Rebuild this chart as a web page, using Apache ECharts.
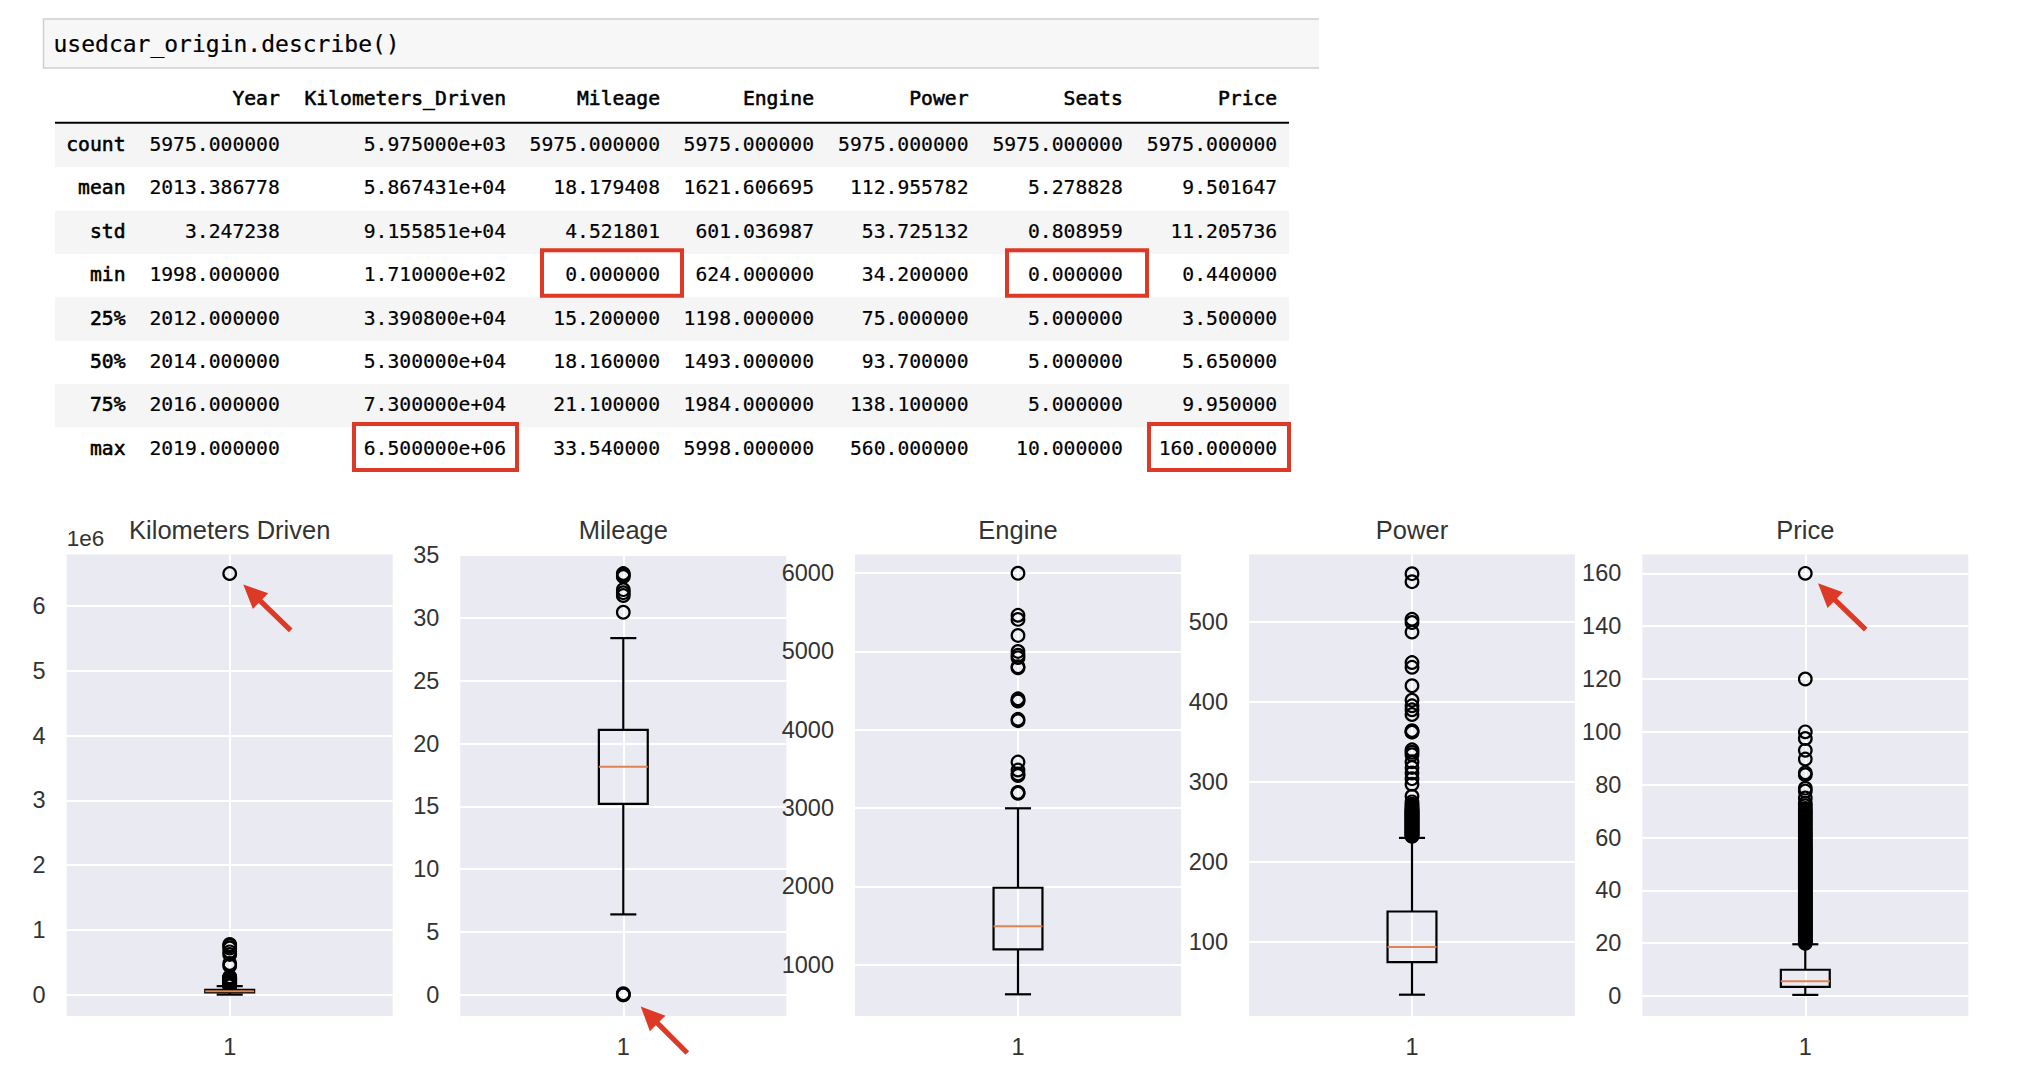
<!DOCTYPE html>
<html>
<head>
<meta charset="utf-8">
<title>usedcar_origin.describe()</title>
<style>html,body{margin:0;padding:0;background:#fff}#chart{width:2038px;height:1068px}</style>
<script src="https://cdn.jsdelivr.net/npm/echarts@6/dist/echarts.min.js"></script>
</head>
<body>
<div id="chart"></div>
<script>
// ---------- table data ----------
const codeLine = 'usedcar_origin.describe()';
const tableColumns = ['Year', 'Kilometers_Driven', 'Mileage', 'Engine', 'Power', 'Seats', 'Price'];
const rowLabels = ['count', 'mean', 'std', 'min', '25%', '50%', '75%', 'max'];
const rowCount = ['5975.000000', '5.975000e+03', '5975.000000', '5975.000000', '5975.000000', '5975.000000', '5975.000000'];
const rowMean = ['2013.386778', '5.867431e+04', '18.179408', '1621.606695', '112.955782', '5.278828', '9.501647'];
const rowStd = ['3.247238', '9.155851e+04', '4.521801', '601.036987', '53.725132', '0.808959', '11.205736'];
const rowMin = ['1998.000000', '1.710000e+02', '0.000000', '624.000000', '34.200000', '0.000000', '0.440000'];
const row25 = ['2012.000000', '3.390800e+04', '15.200000', '1198.000000', '75.000000', '5.000000', '3.500000'];
const row50 = ['2014.000000', '5.300000e+04', '18.160000', '1493.000000', '93.700000', '5.000000', '5.650000'];
const row75 = ['2016.000000', '7.300000e+04', '21.100000', '1984.000000', '138.100000', '5.000000', '9.950000'];
const rowMax = ['2019.000000', '6.500000e+06', '33.540000', '5998.000000', '560.000000', '10.000000', '160.000000'];

// ---------- box plot data: [low whisker, Q1, median, Q3, high whisker] ----------
const panelTitles = ['Kilometers Driven', 'Mileage', 'Engine', 'Power', 'Price'];
const kmBox = [171, 33908, 53000, 73000, 131000];
const mileageBox = [6.4, 15.2, 18.16, 21.1, 28.4];
const engineBox = [624, 1198, 1493, 1984, 2998];
const powerBox = [34.2, 75, 93.7, 138.1, 230];
const priceBox = [0.44, 3.5, 5.65, 9.95, 19.6];

const kmOutliers = [135000, 140000, 145000, 150000, 155000, 160000, 165000, 170000, 175000, 180000, 185000, 190000, 195000, 200000, 205000, 210000, 215000, 220000, 225000, 230000, 235000, 240000, 245000, 250000, 255000, 260000, 265000, 270000, 275000, 445000, 480000, 620000, 660000, 720000, 755000, 775000, 6500000];
const mileageOutliers = [0, 0, 0.08, 30.46, 31.79, 32.02, 32.26, 33.3, 33.44, 33.54];
const engineOutliers = [3190, 3198, 3200, 3417, 3436, 3486, 3588, 4116, 4134, 4367, 4375, 4395, 4792, 4806, 4921, 4951, 5000, 5204, 5409, 5461, 5998];
const powerOutliers = [232, 233, 234, 235, 236, 237, 238, 239, 240, 241, 242, 243, 244, 245, 246, 247, 248, 249, 250, 251, 252, 253, 254, 255, 256, 257, 258, 259, 260, 261, 262, 263, 264, 265, 266, 268, 270, 272, 275, 282, 297, 304, 311, 318, 325, 334, 337, 340, 362, 363, 364, 384, 390, 395, 402, 420, 443, 449, 487, 499, 503, 550, 560];
const priceOutliers = [20, 20.5, 21, 21.5, 22, 22.5, 23, 23.5, 24, 24.5, 25, 25.5, 26, 26.5, 27, 27.5, 28, 28.5, 29, 29.5, 30, 30.5, 31, 31.5, 32, 32.5, 33, 33.5, 34, 34.5, 35, 35.5, 36, 36.5, 37, 37.5, 38, 38.5, 39, 39.5, 40, 40.5, 41, 41.5, 42, 42.5, 43, 43.5, 44, 44.5, 45, 45.5, 46, 46.5, 47, 47.5, 48, 48.5, 49, 49.5, 50, 50.5, 51, 51.5, 52, 52.5, 53, 53.5, 54, 54.5, 55, 55.5, 56, 56.6, 57.2, 57.8, 58.5, 59.2, 60, 60.6, 61.3, 62, 62.8, 63.5, 64.2, 65, 65.7, 66.5, 67.2, 68, 68.8, 69.5, 70.2, 71, 72, 73, 75, 77.6, 78.7, 83.8, 84.5, 89.7, 93, 97.5, 100, 120, 160];

const kmTicks = [0, 1000000, 2000000, 3000000, 4000000, 5000000, 6000000];
const mileageTicks = [0, 5, 10, 15, 20, 25, 30, 35];
const engineTicks = [1000, 2000, 3000, 4000, 5000, 6000];
const powerTicks = [100, 200, 300, 400, 500];
const priceTicks = [0, 20, 40, 60, 80, 100, 120, 140, 160];
const xTick = [1];

// ---------- layout and style ----------
const panelLefts = [66.7, 460.3, 855, 1249, 1642.3];
const panelWidth = 326;
const panelTop = 554.6;
const panelHeight = 461.4;
const yRanges = [[-330000, 6793000], [-1.69, 35.05], [347, 6236], [7.6, 583.8], [-7.55, 167.1]];
const boxHalf = 0.075, capHalf = 0.04;
const RED = '#dc3a26', INK = '#333333', MEDIAN = '#dd8452';
const SANS = '"Liberation Sans", Arial, sans-serif', MONO = '"DejaVu Sans Mono", monospace';

const boxes = [kmBox, mileageBox, engineBox, powerBox, priceBox];
const outliers = [kmOutliers, mileageOutliers, engineOutliers, powerOutliers, priceOutliers];
const ticks = [kmTicks, mileageTicks, engineTicks, powerTicks, priceTicks];

function renderBox(params, api) {
  const x = api.value(0);
  const p = (dx, i) => api.coord([x + dx, api.value(i)]);
  const seg = (a, b, color, w) => ({
    type: 'line',
    shape: { x1: a[0], y1: a[1], x2: b[0], y2: b[1] },
    style: { stroke: color, lineWidth: w, fill: null }
  });
  const tl = p(-boxHalf, 4), br = p(boxHalf, 2);
  return {
    type: 'group',
    children: [
      seg(p(0, 1), p(0, 2), '#000', 2.2),
      seg(p(0, 4), p(0, 5), '#000', 2.2),
      seg(p(-capHalf, 1), p(capHalf, 1), '#000', 2.2),
      seg(p(-capHalf, 5), p(capHalf, 5), '#000', 2.2),
      {
        type: 'rect',
        shape: { x: tl[0], y: tl[1], width: br[0] - tl[0], height: br[1] - tl[1] },
        style: { stroke: '#000', lineWidth: 2.2, fill: 'none' }
      },
      seg(p(-boxHalf, 3), p(boxHalf, 3), MEDIAN, 2)
    ]
  };
}

const grids = [], xAxes = [], yAxes = [], series = [], titles = [];
panelTitles.forEach((name, i) => {
  grids.push({
    left: panelLefts[i], top: panelTop, width: panelWidth, height: panelHeight,
    show: true, backgroundColor: '#eaeaf2', borderWidth: 0
  });
  titles.push({
    text: name, left: panelLefts[i] + panelWidth / 2 - 5, top: 512, textAlign: 'center',
    textStyle: { fontFamily: SANS, fontSize: 25.5, fontWeight: 'normal', color: INK }
  });
  xAxes.push({
    gridIndex: i, type: 'value', min: 0.5, max: 1.5,
    axisLine: { show: false },
    axisTick: { show: false, customValues: xTick },
    axisLabel: { customValues: xTick, margin: 19, fontFamily: SANS, fontSize: 23.5, color: INK },
    splitLine: { show: true, lineStyle: { color: '#fff', width: 2 } }
  });
  yAxes.push({
    gridIndex: i, type: 'value', min: yRanges[i][0], max: yRanges[i][1],
    name: i === 0 ? '1e6' : '',
    nameLocation: 'end', nameGap: 5,
    nameTextStyle: { fontFamily: SANS, fontSize: 22.5, color: INK, align: 'left', verticalAlign: 'bottom' },
    axisLine: { show: false },
    axisTick: { show: false, customValues: ticks[i] },
    axisLabel: {
      customValues: ticks[i], margin: 21, fontFamily: SANS, fontSize: 23.5, color: INK,
      padding: [5, 0, 0, 0],
      formatter: i === 0 ? (v => String(v / 1000000)) : (v => String(v))
    },
    splitLine: { show: true, lineStyle: { color: '#fff', width: 2 } }
  });
  series.push({
    type: 'scatter', name: name + ' outliers', xAxisIndex: i, yAxisIndex: i, z: 3,
    symbol: 'circle', symbolSize: 12.6, silent: true,
    itemStyle: { color: 'rgba(0,0,0,0)', borderColor: '#000', borderWidth: 2.2, opacity: 1 },
    data: outliers[i].map(v => [1, v])
  });
  series.push({
    type: 'custom', name: name, xAxisIndex: i, yAxisIndex: i, z: 4, silent: true,
    renderItem: renderBox,
    encode: { x: 0, y: [1, 2, 3, 4, 5] },
    data: [[1].concat(boxes[i])]
  });
});

// ---------- table and annotations, placed with the page's layout grid ----------
const tableRows = [rowCount, rowMean, rowStd, rowMin, row25, row50, row75, rowMax];
const tableLeft = 55, tableRight = 1289, rowsTop = 123.7, rowHeight = 43.4, headerY = 98.3;
const indexRight = 125, columnRights = [279.8, 506, 660, 814, 968.5, 1122.8, 1277.2];
const codeBox = { left: 43.5, right: 1319, top: 19, bottom: 68 };
const graphics = [];
graphics.push({
  type: 'rect', z: 1,
  shape: { x: codeBox.left, y: codeBox.top, width: codeBox.right - codeBox.left, height: codeBox.bottom - codeBox.top },
  style: { fill: '#f7f7f7' }
});
graphics.push({
  type: 'polyline', z: 2,
  shape: { points: [[codeBox.right, codeBox.top], [codeBox.left, codeBox.top], [codeBox.left, codeBox.bottom], [codeBox.right, codeBox.bottom]] },
  style: { fill: 'none', stroke: '#cfcfcf', lineWidth: 1.5 }
});
function textCell(str, x, y, size, align, heavier) {
  graphics.push({
    type: 'text', z: 3, x: x, y: y,
    style: { text: str, fontFamily: MONO, fontSize: size, fill: '#000', stroke: '#000', lineWidth: heavier ? 0.55 : 0.2, align: align, verticalAlign: 'middle' }
  });
}
textCell(codeLine, 53.5, 44.3, 23, 'left');
tableColumns.forEach((c, j) => textCell(c, columnRights[j], headerY, 19.7, 'right', true));
graphics.push({
  type: 'rect', z: 2,
  shape: { x: tableLeft, y: rowsTop - 2, width: tableRight - tableLeft, height: 2 },
  style: { fill: '#000' }
});
rowLabels.forEach((label, r) => {
  const top = rowsTop + r * rowHeight;
  if (r % 2 === 0) {
    graphics.push({
      type: 'rect', z: 1,
      shape: { x: tableLeft, y: top, width: tableRight - tableLeft, height: rowHeight },
      style: { fill: '#f5f5f5' }
    });
  }
  const cy = top + rowHeight / 2 - 1;
  textCell(label, indexRight + 0.5, cy, 19.7, 'right', true);
  tableRows[r].forEach((v, j) => textCell(v, columnRights[j], cy, 19.7, 'right'));
});
// highlight rectangles: outer x0, y0, x1, y1
const highlights = [[540, 248.3, 684, 297.7], [1005, 248.3, 1149, 297.7], [352, 422, 519, 472], [1147, 422, 1291, 472]];
highlights.forEach(h => graphics.push({
  type: 'rect', z: 4,
  shape: { x: h[0] + 2, y: h[1] + 2, width: h[2] - h[0] - 4, height: h[3] - h[1] - 4 },
  style: { fill: 'none', stroke: RED, lineWidth: 4 }
}));
// arrows: tail x, tail y, tip x, tip y
const arrows = [[290.7, 630.4, 243.3, 584.4], [687.3, 1053, 640.7, 1006.5], [1865.7, 629.7, 1818, 583.3]];
arrows.forEach(a => {
  const dx = a[2] - a[0], dy = a[3] - a[1], len = Math.hypot(dx, dy);
  const ux = dx / len, uy = dy / len, nx = -uy, ny = ux;
  const headLen = 24, headHalf = 11, shaft = 2.6;
  const bx = a[2] - ux * headLen, by = a[3] - uy * headLen;
  graphics.push({
    type: 'polygon', z: 10,
    shape: {
      points: [
        [a[0] + nx * shaft, a[1] + ny * shaft],
        [bx + nx * shaft, by + ny * shaft],
        [bx + nx * headHalf, by + ny * headHalf],
        [a[2], a[3]],
        [bx - nx * headHalf, by - ny * headHalf],
        [bx - nx * shaft, by - ny * shaft],
        [a[0] - nx * shaft, a[1] - ny * shaft]
      ]
    },
    style: { fill: RED }
  });
});

const chart = echarts.init(document.getElementById('chart'), null, { renderer: 'svg', width: 2038, height: 1068 });
chart.setOption({
  animation: false,
  backgroundColor: '#fff',
  tooltip: { show: false },
  title: titles,
  grid: grids,
  xAxis: xAxes,
  yAxis: yAxes,
  series: series,
  graphic: { elements: graphics }
});
</script>
</body>
</html>
